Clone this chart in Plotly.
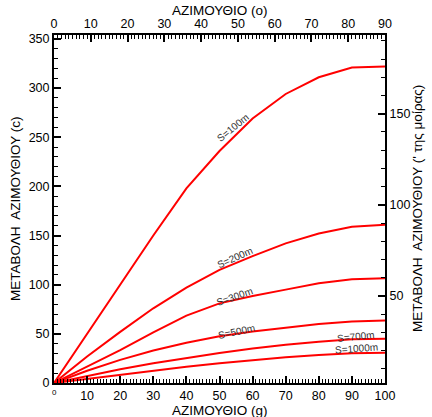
import plotly.graph_objects as go

# Data
azimuth_g = [0, 10, 20, 30, 40, 50, 60, 70, 80, 90, 100]
s100 = [0, 50, 101, 150, 198, 236, 269, 294, 311, 321, 322]
s200 = [0, 27, 52, 76, 97, 115, 129, 142, 152, 159, 161]
s300 = [0, 17, 33.5, 51.5, 68.5, 81, 88.5, 95, 101.5, 105.5, 106.5]
s500 = [0, 12.5, 23.5, 33, 41, 47.5, 52.5, 56.5, 60, 62.5, 63.5]
s700 = [0, 7, 14, 20, 25.5, 30.5, 35, 39, 42, 44.5, 45]
s1000 = [0, 4.3, 8.4, 12.6, 16.6, 20.2, 23.4, 26.2, 28.6, 30.3, 30.8]

series = [s100, s200, s300, s500, s700, s1000]
labels = ["S=100m", "S=200m", "S=300m", "S=500m", "S=700m", "S=1000m"]
label_x = [54.1, 54.7, 54.7, 55.3, 91.2, 91.5]
label_y = [260, 128, 87.5, 52, 47.8, 34.6]
label_angle = [-39, -24, -19, -12, -6, -4]

FONT = "Liberation Sans, Arial, Helvetica, sans-serif"

fig = go.Figure()
for ys in series:
    fig.add_trace(go.Scatter(x=azimuth_g, y=ys, mode="lines",
                             line=dict(color="#ff0000", width=2),
                             showlegend=False, hoverinfo="skip"))
# invisible trace to activate secondary axes
fig.add_trace(go.Scatter(x=[0], y=[0], xaxis="x2", yaxis="y2", mode="markers",
                         marker=dict(opacity=0), showlegend=False, hoverinfo="skip"))

for t, xx, yy, a in zip(labels, label_x, label_y, label_angle):
    fig.add_annotation(x=xx, y=yy, text=t, showarrow=False, textangle=a,
                       font=dict(family=FONT, size=10, color="#333333"))

# tiny zero label at bottom-left
fig.add_annotation(x=0, y=0, yref="y", text="0", showarrow=False, yshift=-9,
                   font=dict(family=FONT, size=8, color="black"))

# axis titles as annotations for exact placement
tfont = dict(family=FONT, size=13.5, color="black")
fig.add_annotation(xref="paper", yref="paper", x=0.5, y=0, yshift=-27, yanchor="middle",
                   text="ΑΖΙΜΟΥΘΙΟ (g)", showarrow=False, font=tfont)
fig.add_annotation(xref="paper", yref="paper", x=0.5, y=1, yshift=25, yanchor="middle",
                   text="ΑΖΙΜΟΥΘΙΟ (o)", showarrow=False, font=tfont)
fig.add_annotation(xref="paper", yref="paper", x=0, y=0.5, xshift=-39, xanchor="center",
                   textangle=-90, text="ΜΕΤΑΒΟΛΗ  ΑΖΙΜΟΥΘΙΟΥ (c)", showarrow=False, font=tfont)
fig.add_annotation(xref="paper", yref="paper", x=1, y=0.5, xshift=32, xanchor="center",
                   textangle=-90, text="ΜΕΤΑΒΟΛΗ  ΑΖΙΜΟΥΘΙΟΥ (' της μοίρας)", showarrow=False, font=tfont)

common = dict(showgrid=False, zeroline=False, showline=True, linecolor="black",
              linewidth=2, ticks="inside", ticklen=7, tickwidth=1.5, tickcolor="black",
              automargin=False,
              tickfont=dict(family=FONT, size=12.5, color="black"))

fig.update_layout(
    width=432, height=417,
    margin=dict(l=54, r=47, t=35, b=34),
    paper_bgcolor="white", plot_bgcolor="white",
    font=dict(family=FONT, color="black"),
    xaxis=dict(range=[0, 100], tickvals=list(range(10, 101, 10)),
               minor=dict(dtick=1, ticklen=4, ticks="inside", tickcolor="black", tickwidth=1),
               **common),
    xaxis2=dict(range=[0, 90], overlaying="x", side="top", anchor="y", dtick=10,
                minor=dict(dtick=1, ticklen=4, ticks="inside", tickcolor="black", tickwidth=1),
                **common),
    yaxis=dict(range=[0, 354], dtick=50,
               minor=dict(dtick=10, ticklen=4, ticks="inside", tickcolor="black", tickwidth=1),
               **common),
    yaxis2=dict(range=[2.2, 193.2], overlaying="y", side="right", anchor="x",
                tickvals=[50, 100, 150],
                minor=dict(dtick=10, ticklen=4, ticks="inside", tickcolor="black", tickwidth=1),
                **common),
)

fig.write_html("out.html")
